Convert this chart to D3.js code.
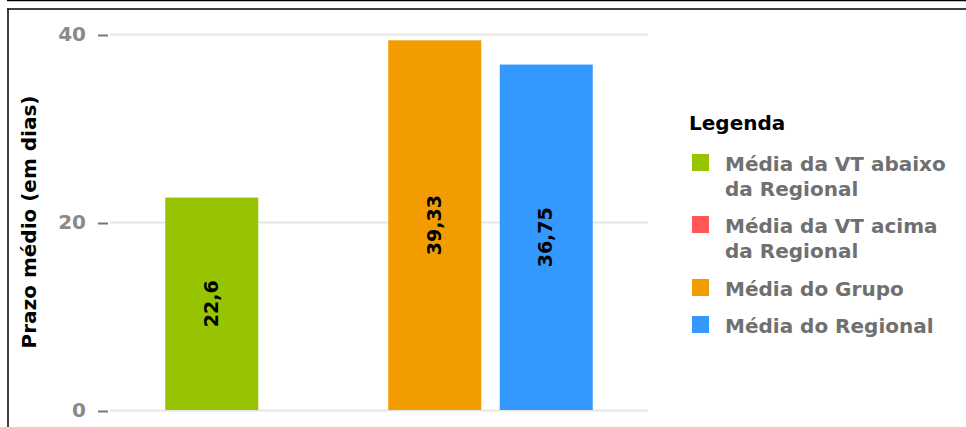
<!DOCTYPE html>
<html>
<head>
<meta charset="utf-8">
<script src="https://cdn.jsdelivr.net/npm/d3@7"></script>
<style>
  body { margin: 0; background: #fff; }
  svg { display: block; font-family: "DejaVu Sans", Verdana, sans-serif; }
</style>
</head>
<body>
<svg id="chart" width="966" height="427"></svg>
<script>
// series of the single group
const series = ["Média da VT abaixo da Regional", "Média da VT acima da Regional", "Média do Grupo", "Média do Regional"];
const values = [22.6, null, 39.33, 36.75];
const labels = ["22,6", "", "39,33", "36,75"];
const colors = ["#97c400", "#ff5656", "#f39c00", "#3399ff"];
const legendLines = [["Média da VT abaixo", "da Regional"], ["Média da VT acima", "da Regional"], ["Média do Grupo"], ["Média do Regional"]];
const yTicks = [0, 20, 40];

const svg = d3.select("#chart");

// frame lines (page border)
svg.append("line").attr("x1", 7).attr("x2", 966).attr("y1", 0.5).attr("y2", 0.5)
    .attr("stroke", "#000").attr("stroke-width", 1.5);
svg.append("line").attr("x1", 7).attr("x2", 966).attr("y1", 9).attr("y2", 9)
    .attr("stroke", "#000").attr("stroke-width", 1.5);
svg.append("line").attr("x1", 8).attr("x2", 8).attr("y1", 9).attr("y2", 427)
    .attr("stroke", "#000").attr("stroke-width", 1.5);

const plot = { left: 110, right: 648, top: 34, bottom: 410 };

const y = d3.scaleLinear().domain([0, 40]).range([plot.bottom, plot.top]);
const x = d3.scaleBand().domain(series).range([plot.left, plot.right])
    .paddingInner(0.166).paddingOuter(0.4955);

// gridlines
svg.append("g").selectAll("line").data(yTicks).enter().append("line")
    .attr("x1", plot.left).attr("x2", plot.right)
    .attr("y1", d => y(d) + 0.5).attr("y2", d => y(d) + 0.5)
    .attr("stroke", "#e6e6e6").attr("stroke-width", 2);

// y axis
const yAxis = svg.append("g")
    .attr("transform", `translate(${plot.left - 12},0)`)
    .call(d3.axisLeft(y).tickValues(yTicks).tickSize(0).tickPadding(12));
yAxis.select(".domain").remove();
yAxis.selectAll(".tick text")
    .attr("fill", "#8a8a8a")
    .style("font-size", "20px")
    .style("font-weight", "bold")
    .style("font-family", "DejaVu Sans");
yAxis.selectAll(".tick").append("line")
    .attr("x1", 0).attr("x2", 10).attr("y1", 1).attr("y2", 1)
    .attr("stroke", "#777").attr("stroke-width", 2);

// axis title
svg.append("text")
    .attr("transform", `translate(36,${(plot.top + plot.bottom) / 2}) rotate(-90)`)
    .attr("text-anchor", "middle")
    .style("font-size", "20px")
    .style("font-weight", "bold")
    .attr("fill", "#000")
    .text("Prazo médio (em dias)");

// bars
const bars = series.map((s, i) => ({ s, v: values[i], label: labels[i], color: colors[i] }))
    .filter(d => d.v != null);

svg.append("g").selectAll("rect").data(bars).enter().append("rect")
    .attr("x", d => x(d.s))
    .attr("width", x.bandwidth())
    .attr("y", d => y(d.v))
    .attr("height", d => y(0) - y(d.v))
    .attr("fill", d => d.color);

svg.append("g").selectAll("text").data(bars).enter().append("text")
    .attr("transform", d => `translate(${x(d.s) + x.bandwidth() / 2 + 6},${(y(d.v) + y(0)) / 2}) rotate(-90)`)
    .attr("text-anchor", "middle")
    .style("font-size", "19px")
    .style("font-weight", "bold")
    .attr("fill", "#000")
    .text(d => d.label);

// legend
const legend = svg.append("g").attr("transform", "translate(689,0)");
legend.append("text")
    .attr("x", 0).attr("y", 130)
    .style("font-size", "20px")
    .style("font-weight", "bold")
    .attr("fill", "#000")
    .text("Legenda");

const itemY = [171, 233, 296, 333];
legendLines.forEach((lines, i) => {
    legend.append("rect")
        .attr("x", 3).attr("y", itemY[i] - 4 - 13)
        .attr("width", 17).attr("height", 17)
        .attr("fill", colors[i]);
    const t = legend.append("text")
        .attr("x", 36).attr("y", itemY[i])
        .style("font-size", "20px")
        .style("font-weight", "bold")
        .attr("fill", "#707070");
    lines.forEach((l, j) => {
        t.append("tspan").attr("x", 36).attr("dy", j === 0 ? 0 : 25).text(l);
    });
});
</script>
</body>
</html>
